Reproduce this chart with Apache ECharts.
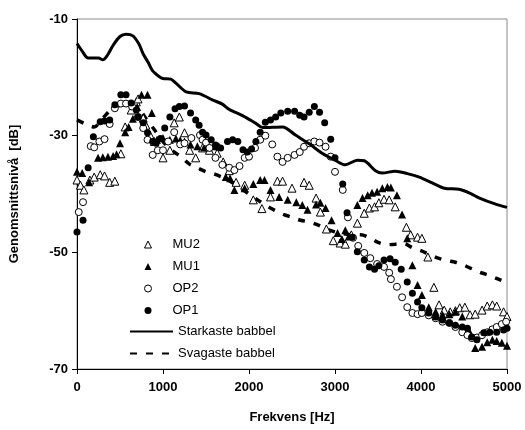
<!DOCTYPE html>
<html>
<head>
<meta charset="utf-8">
<script src="https://cdn.jsdelivr.net/npm/echarts@6/dist/echarts.min.js"></script>
<style>
  html, body { margin: 0; padding: 0; background: #fff; }
  #chart { width: 525px; height: 430px; }
</style>
</head>
<body>
<div id="chart"></div>
<script>
// frekvens [Hz], nivå [dB]
var yTicks = [-70, -50, -30, -10];

var mu2 = [[0,-37.6],[40,-38.5],[80,-39.3],[150,-37.6],[200,-37.1],[270,-36.7],[320,-36.9],[380,-38],[440,-37.8],
  [510,-33.1],[560,-28.5],[630,-25.6],[690,-24.2],[710,-23.7],[770,-27],[800,-28.2],[850,-29.9],[900,-31],
  [1000,-33.8],[1080,-32.5],[1130,-27.8],[1190,-26.8],[1250,-29.5],[1310,-32.5],[1380,-33.8],[1460,-32.1],
  [1540,-32.5],[1630,-33],[1700,-34.5],[1770,-36],[1850,-38],[1950,-38.5],[2050,-41],[2150,-42.5],[2250,-40.5],
  [2330,-37.8],[2390,-37.8],[2500,-39],[2640,-38],[2700,-38.5],[2780,-40.7],[2830,-43.1],[2900,-46],[2980,-48],
  [3060,-48.4],[3120,-48.6],[3190,-47],[3260,-45],[3340,-43.3],[3400,-42.4],[3460,-42.2],[3510,-41.5],[3570,-40.9],
  [3630,-41],[3700,-42.2],[3830,-45.7],[3880,-47],[3960,-47.4],[4010,-47.6],[4080,-50.8],[4150,-56],[4210,-59],
  [4270,-59.9],[4340,-60.2],[4400,-60],[4450,-59.5],[4510,-59.4],[4570,-60.7],[4630,-60.6],[4710,-59.9],
  [4770,-59.2],[4830,-59],[4880,-59.2],[4960,-60.2],[5000,-61]];

var mu1 = [[0,-36.2],[60,-36.4],[140,-38],[245,-33.8],[300,-33.7],[360,-33.6],[420,-33.5],[460,-33.2],[500,-31.3],
  [560,-29.4],[600,-28.5],[650,-27.1],[700,-25.1],[750,-23],[820,-23],[870,-26.1],[930,-30.7],[1000,-30.4],
  [1080,-30.7],[1150,-30.5],[1200,-30.8],[1250,-31],[1320,-31.5],[1400,-31.8],[1480,-32],[1530,-32],[1590,-31.8],
  [1650,-31.8],[1730,-37.1],[1780,-37.3],[1830,-39.3],[1950,-39],[2050,-38.3],[2130,-37.6],[2180,-37.6],
  [2250,-39.3],[2350,-40.5],[2450,-41],[2550,-41.4],[2620,-41.9],[2680,-42.7],[2780,-41.8],[2830,-41.5],
  [2890,-42.4],[2960,-44.5],[3030,-46.7],[3080,-47.7],[3120,-46.2],[3160,-47.3],[3260,-41.9],[3320,-40.7],
  [3380,-40.2],[3430,-39.8],[3490,-39.6],[3550,-39],[3610,-38.8],[3650,-38.9],[3720,-40.2],[3780,-43.5],
  [3840,-47.6],[3900,-52.2],[3960,-55.6],[4010,-57.3],[4090,-59.4],[4170,-60.2],[4250,-60.7],[4330,-60.6],
  [4400,-60.2],[4480,-61],[4560,-63.5],[4630,-66.4],[4710,-66.2],[4770,-65.4],[4830,-65],[4880,-65.2],
  [4940,-65.5],[5000,-66]];

var op2 = [[20,-43.1],[70,-41.4],[160,-31.8],[200,-32],[260,-31],[320,-30.6],[380,-28],[440,-25.3],[510,-24.5],
  [570,-24.5],[640,-25],[710,-26.8],[770,-28.7],[820,-30.7],[880,-33.3],[940,-32.5],[1000,-32.5],[1060,-31],
  [1130,-29.4],[1200,-31.5],[1250,-31.3],[1330,-30.4],[1430,-29.9],[1460,-30.7],[1500,-31.2],[1540,-32.1],
  [1610,-33.8],[1690,-35],[1770,-35.5],[1830,-35.9],[1890,-35.2],[1950,-33.8],[2000,-33.6],[2070,-32.1],
  [2130,-30.7],[2190,-30],[2270,-31.5],[2330,-33.6],[2390,-34.5],[2450,-33.8],[2530,-33.3],[2590,-32.8],
  [2640,-31.9],[2700,-31.3],[2760,-31],[2820,-31.2],[2890,-31.9],[2950,-33.6],[3000,-36.2],[3090,-39.3],
  [3150,-44],[3210,-47.5],[3270,-48.9],[3340,-50.1],[3410,-51],[3490,-52],[3570,-52.5],[3630,-53.5],[3650,-54.6],
  [3720,-55.9],[3780,-57.7],[3840,-59.4],[3900,-60.4],[3960,-60.6],[4010,-60.4],[4090,-60.8],[4170,-61.3],
  [4250,-61.9],[4330,-62.1],[4400,-62.8],[4480,-63.7],[4540,-64.2],[4590,-64.7],[4650,-64.6],[4710,-64.2],
  [4770,-63.7],[4830,-63.2],[4880,-62.8],[4940,-62.3],[4990,-61.9]];

var op1 = [[0,-46.5],[70,-44.5],[130,-35.5],[190,-30.2],[270,-27.6],[320,-27.5],[380,-27.3],[440,-24.7],[510,-23],
  [570,-23],[630,-24.4],[690,-25.6],[710,-26.8],[770,-27.8],[820,-29.5],[880,-31],[920,-31.3],[970,-30.5],
  [1020,-28.7],[1080,-26.8],[1140,-25.4],[1190,-25],[1250,-24.9],[1320,-26.1],[1380,-27.3],[1420,-28.2],
  [1460,-29.4],[1500,-29.9],[1560,-30.7],[1610,-31.6],[1670,-32.1],[1750,-31],[1810,-30.7],[1870,-31],
  [1930,-32.4],[1980,-32.8],[2030,-32.3],[2080,-31],[2130,-29.4],[2190,-27.7],[2250,-27.3],[2310,-26.8],
  [2370,-26.1],[2450,-25.8],[2530,-25.8],[2590,-26.5],[2640,-26.8],[2700,-26],[2760,-25],[2820,-26],
  [2880,-27.8],[2950,-30.6],[3000,-33.8],[3090,-38.3],[3140,-43.2],[3200,-47.4],[3260,-49.9],[3340,-51.3],
  [3400,-52.5],[3460,-52.9],[3510,-52.3],[3570,-51.3],[3640,-51.1],[3700,-51.7],[3770,-52.9],[3840,-55.1],
  [3900,-57],[3960,-58.5],[4010,-59.5],[4090,-60.4],[4170,-61.1],[4250,-61.6],[4330,-62.1],[4400,-62.5],
  [4480,-62.8],[4540,-63],[4590,-64.5],[4650,-65],[4730,-63.8],[4800,-63.7],[4880,-63.7],[4960,-63.3],[5000,-63]];

var stark = [[0,-14.2],[60,-15.5],[130,-16.7],[250,-16.7],[300,-17],[350,-16.3],[420,-14.5],[500,-13],[570,-12.6],
  [650,-12.9],[720,-14.3],[770,-16],[830,-17.5],[880,-18.9],[950,-19.8],[1000,-20.2],[1090,-20.3],[1150,-21],
  [1270,-22.5],[1420,-22.8],[1580,-23.9],[1690,-24.6],[1770,-25.5],[1930,-26.6],[2080,-27.9],[2160,-28.6],
  [2390,-28.5],[2540,-29.9],[2700,-31.4],[2850,-33],[3000,-34.2],[3120,-35],[3260,-34.2],[3340,-34.3],
  [3470,-36],[3550,-36.4],[3700,-36.1],[3840,-36.5],[3980,-37.1],[4130,-38.1],[4270,-39],[4440,-39.2],
  [4560,-39.8],[4680,-40.7],[4860,-41.7],[5000,-42.3]];

var svag = [[0,-27.3],[100,-28],[200,-28.5],[300,-27],[400,-25.5],[500,-24.8],[600,-24.5],[700,-25],[800,-27],
  [900,-29],[1000,-31],[1100,-32.5],[1200,-33.5],[1300,-34.8],[1400,-35.5],[1500,-36.2],[1600,-36.6],[1700,-37.2],
  [1800,-38],[1900,-39],[2000,-40],[2100,-41],[2200,-42],[2300,-42.8],[2400,-43.5],[2500,-44],[2600,-44.5],
  [2700,-44.8],[2800,-45.3],[2900,-46],[3000,-46.5],[3100,-46.8],[3200,-47],[3300,-47],[3400,-47.5],[3500,-48.3],
  [3600,-48.7],[3700,-48.6],[3800,-48.5],[3900,-49.2],[4000,-49.7],[4100,-50.4],[4200,-51],[4300,-51.4],
  [4400,-51.7],[4500,-52.2],[4600,-52.9],[4700,-53.5],[4800,-54],[4900,-54.6],[5000,-55.2]];

var font = 'Arial, "Liberation Sans", sans-serif';
var chart = echarts.init(document.getElementById('chart'));

function openMarks(name, data, symbol, size) {
  return {
    name: name, type: 'scatter', data: data, symbol: symbol, symbolSize: size,
    itemStyle: { color: '#fff', borderColor: '#000', borderWidth: 1, opacity: 1 },
    z: 3
  };
}
function filledMarks(name, data, symbol, size) {
  return {
    name: name, type: 'scatter', data: data, symbol: symbol, symbolSize: size,
    itemStyle: { color: '#000', opacity: 1 },
    z: 3
  };
}

var legendText = { fontFamily: font, fontSize: 13, color: '#000' };
var noDot = { color: 'rgba(0,0,0,0)', borderWidth: 0 };

chart.setOption({
  animation: false,
  textStyle: { fontFamily: font },
  grid: {
    left: 74, right: 18, top: 19, bottom: 61,
    show: true, borderColor: '#8c8c8c', borderWidth: 1
  },
  legend: [{
    // punkter
    orient: 'vertical',
    left: 139, top: 233,
    itemWidth: 7, itemHeight: 7, itemGap: 9,
    itemStyle: { borderWidth: 1 },
    textStyle: Object.assign({ padding: [0, 0, 0, 16] }, legendText),
    data: ['MU2', 'MU1', 'OP2', 'OP1']
  }, {
    // linjer
    orient: 'vertical',
    left: 124, top: 320,
    itemWidth: 43, itemHeight: 8, itemGap: 9,
    textStyle: legendText,
    data: [
      { name: 'Starkaste babbel', itemStyle: noDot },
      { name: 'Svagaste babbel', itemStyle: noDot }
    ]
  }],
  xAxis: {
    type: 'value', min: 0, max: 5000, interval: 1000,
    name: 'Frekvens [Hz]', nameLocation: 'middle', nameGap: 42,
    nameTextStyle: { fontFamily: font, fontSize: 13, fontWeight: 'bold', color: '#000' },
    axisLine: { lineStyle: { color: '#000', width: 1 } },
    axisTick: { show: true, inside: false, length: 5, lineStyle: { color: '#000' } },
    axisLabel: {
      fontFamily: font, fontSize: 13, fontWeight: 'bold', color: '#000', margin: 12,
      formatter: function (v) { return String(v); }
    },
    splitLine: { show: false }
  },
  yAxis: {
    type: 'value', min: -70, max: -10,
    name: 'Genomsnittsnivå  [dB]', nameLocation: 'middle', nameGap: 56, nameRotate: 90,
    nameTextStyle: { fontFamily: font, fontSize: 13, fontWeight: 'bold', color: '#000' },
    axisLine: { show: true, lineStyle: { color: '#000', width: 1 } },
    axisTick: { show: true, length: 5, lineStyle: { color: '#000' }, customValues: yTicks },
    axisLabel: { fontFamily: font, fontSize: 13, fontWeight: 'bold', color: '#000', margin: 9, customValues: yTicks },
    splitLine: { show: false }
  },
  series: [
    openMarks('MU2', mu2, 'triangle', 8),
    filledMarks('MU1', mu1, 'triangle', 8),
    openMarks('OP2', op2, 'circle', 7),
    filledMarks('OP1', op1, 'circle', 7),
    {
      name: 'Starkaste babbel', type: 'line', data: stark, symbol: 'none', smooth: 0.3,
      lineStyle: { color: '#000', width: 3 }, itemStyle: { color: '#000' }, z: 4
    },
    {
      name: 'Svagaste babbel', type: 'line', data: svag, symbol: 'none', smooth: 0.3,
      lineStyle: { color: '#000', width: 3.5, type: [7, 9] }, itemStyle: { color: '#000' }, z: 2
    }
  ]
});
</script>
</body>
</html>
